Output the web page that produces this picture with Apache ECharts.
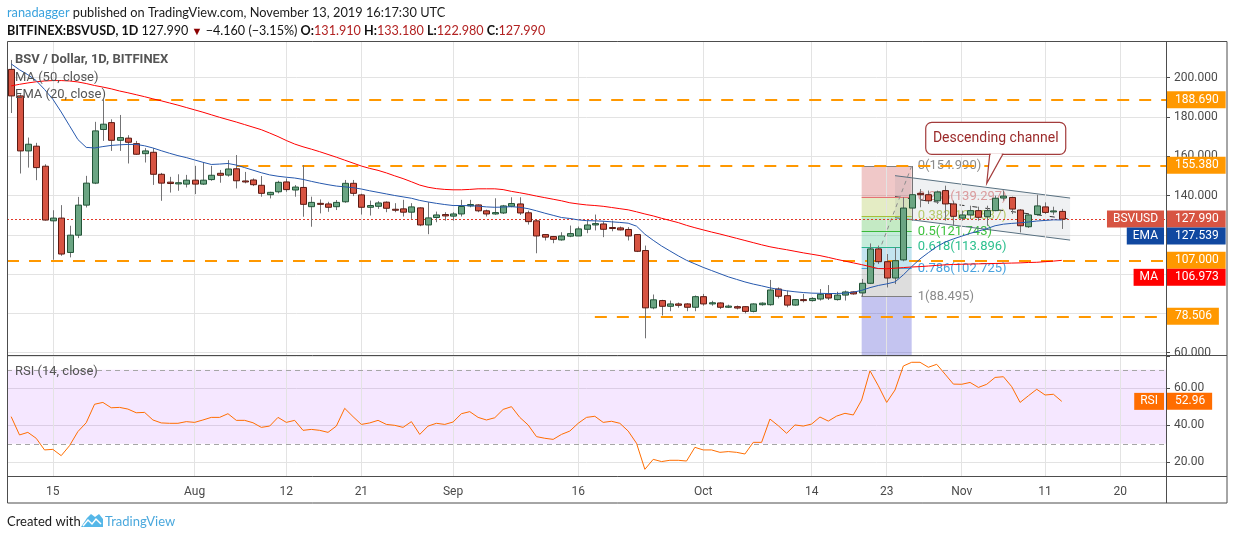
<!DOCTYPE html>
<html><head><meta charset="utf-8">
<script src="https://cdn.jsdelivr.net/npm/echarts@6/dist/echarts.min.js"></script>
<style>html,body{margin:0;padding:0;background:#fff;}#c{width:1234px;height:540px;}</style>
</head><body><div id="c"></div>
<script>
// ---------- categories (daily, Jul 10 .. Nov 25, 2019) ----------
const monthSpans = [['Jul', 10, 31], ['Aug', 1, 31], ['Sep', 1, 30], ['Oct', 1, 31], ['Nov', 1, 25]];
const categories = [];
monthSpans.forEach(([m, s, e]) => { for (let d = s; d <= e; d++) categories.push(m + ' ' + d); });

// ---------- x-axis ticks ----------
const tickDates  = ['Jul 15', 'Aug 1', 'Aug 12', 'Aug 21', 'Sep 1', 'Sep 16', 'Oct 1', 'Oct 14', 'Oct 23', 'Nov 1', 'Nov 11', 'Nov 20'];
const tickLabels = ['15', 'Aug', '12', '21', 'Sep', '16', 'Oct', '14', '23', 'Nov', '11', '20'];
const priceTicksShown = [60, 140, 160, 180, 200];
const rsiTicksShown = [20, 40, 60];

// ---------- OHLC (BSV/USD, Bitfinex, 1D) ----------
const opens = [204.2,190.7,162.7,165.1,154.9,127.1,128.5,111.0,119.8,135.1,146.3,173.6,177.1,168.1,169.2,166.4,161.3,162.0,150.8,146.8,145.9,145.8,
147.8,145.8,148.1,151.3,150.4,153.6,147.4,147.9,145.2,140.4,141.9,146.9,142.8,144.1,134.3,136.0,135.7,134.3,136.8,146.2,140.3,134.0,134.5,136.6,133.0,133.2,131.5,133.7,125.0,128.8,130.3,
129.5,130.6,134.7,135.2,132.2,130.6,131.1,134.5,135.7,131.2,127.1,120.1,119.1,117.4,119.3,119.4,122.8,125.0,125.5,123.7,123.5,122.7,120.1,112.0,82.8,86.5,83.6,84.8,84.8,83.1,
88.5,84.8,85.3,83.1,83.4,83.4,81.0,84.4,84.4,92.4,89.0,84.2,87.0,86.5,87.3,89.9,87.0,89.3,90.9,90.4,95.3,112.8,106.3,98.0,107.2,133.6,141.1,140.4,137.3,142.5,135.7,
128.5,130.1,132.3,129.2,132.3,138.7,139.0,132.6,124.1,130.3,134.2,132.0,131.91];
const highs = [209.0,191.5,169.5,166.8,155.9,132.5,135.1,124.6,139.3,150.0,177.5,189.0,178.8,181.0,170.7,167.8,164.1,164.1,151.5,149.5,150.8,150.5,
155.1,156.8,155.1,153.0,158.0,160.6,152.0,148.7,149.9,141.9,147.5,148.7,145.3,155.5,139.4,138.0,136.8,137.7,147.9,147.9,140.9,137.4,137.1,137.0,136.1,137.8,136.1,134.0,136.6,131.8,131.5,
131.5,137.8,137.8,135.5,132.8,138.6,135.2,139.1,139.1,132.3,127.6,120.1,119.4,121.3,124.7,124.2,127.2,130.3,126.9,127.2,124.2,123.9,120.4,114.5,89.6,86.9,86.5,85.5,85.2,89.1,
89.9,86.4,85.6,84.4,84.0,83.6,85.1,85.6,97.0,93.2,91.5,87.3,89.9,88.2,92.4,94.4,91.0,91.6,91.2,97.5,115.6,114.5,110.2,113.6,139.1,154.99,143.3,142.5,142.5,145.0,137.4,
132.3,134.8,134.3,134.8,139.9,142.5,139.4,133.1,130.6,140.4,136.5,134.3,133.18];
const lows = [182.0,151.2,154.2,147.8,127.2,107.3,109.3,108.5,118.3,133.9,145.8,167.8,162.7,162.7,156.3,160.7,156.8,145.4,137.3,141.5,142.4,144.1,
140.7,145.4,147.5,146.5,149.6,143.6,146.2,144.8,139.4,138.5,141.1,141.9,139.4,129.2,124.1,130.9,131.7,132.6,136.3,139.7,130.3,129.8,133.2,131.5,131.5,129.3,128.1,124.4,120.3,126.4,127.2,
127.2,129.3,134.0,131.5,129.3,130.2,130.6,134.0,130.1,125.2,110.6,117.1,115.7,117.0,118.8,119.4,120.8,122.2,118.8,121.8,122.2,117.1,111.2,67.3,82.1,78.9,81.1,82.9,81.1,81.1,
83.9,83.9,82.2,82.7,82.0,80.0,80.5,83.9,83.9,87.6,83.1,83.9,85.6,86.0,86.5,86.8,86.5,86.5,89.5,88.495,94.9,105.1,93.2,94.9,106.5,127.2,134.0,135.7,135.7,127.2,124.6,
127.2,128.0,127.2,124.6,132.0,137.4,130.6,121.2,123.5,129.8,130.6,130.2,122.98];
const closes = [190.7,162.7,166.1,154.2,127.5,128.5,110.2,119.8,135.1,146.3,172.9,176.3,168.1,169.5,167.1,161.0,162.7,150.8,146.3,146.1,146.5,147.8,
145.8,147.8,150.3,150.3,153.5,147.5,146.9,145.5,141.1,141.6,146.7,143.0,144.3,135.5,136.5,135.5,134.0,136.5,146.2,141.1,134.0,134.9,136.2,133.5,132.5,131.5,134.2,125.0,128.6,130.1,129.6,
130.6,134.4,135.4,132.2,130.6,131.3,134.7,135.9,131.1,126.7,119.4,118.8,117.7,119.4,120.6,123.0,125.0,125.7,122.8,123.2,122.5,119.4,111.6,82.8,86.9,83.6,84.8,84.1,83.1,88.5,
84.8,85.4,83.1,83.7,82.7,81.0,84.8,85.2,91.9,88.7,84.2,87.0,86.5,87.6,89.7,87.8,89.3,90.9,89.9,95.3,112.8,106.3,98.0,106.8,133.6,140.4,140.4,137.3,141.8,135.7,129.4,
130.1,132.3,128.9,132.3,138.6,139.7,133.1,124.6,130.1,134.7,131.4,132.15,127.99];

// ---------- indicators ----------
const ma50 = [195.8,196.6,197.3,197.9,198.3,198.5,198.5,198.3,197.8,197.0,196.0,195.2,194.3,193.2,192.3,191.3,190.3,189.2,188.2,187.1,186.0,184.8,
183.6,182.4,181.1,179.8,178.6,177.4,176.1,174.8,173.5,171.8,170.0,168.0,166.2,164.8,163.6,162.3,160.9,159.5,158.0,156.5,155.0,153.8,152.8,151.5,150.0,148.6,147.0,145.3,144.2,143.5,143.1,
142.9,142.9,143.1,143.4,143.4,143.4,143.0,142.1,141.4,140.6,139.7,138.9,138.1,137.3,136.3,135.7,135.2,134.9,134.5,133.9,133.3,132.7,131.7,130.6,129.6,128.4,127.3,126.2,124.8,123.6,
122.5,121.4,120.4,119.3,118.2,117.1,116.0,114.9,113.9,113.1,112.4,111.6,110.8,110.1,109.4,108.5,107.5,106.6,105.7,104.8,103.8,102.8,102.7,103.0,103.3,103.6,103.8,104.1,104.4,104.7,104.9,
105.0,105.1,105.2,105.3,105.4,105.5,105.6,105.7,105.9,106.0,106.3,106.6,106.973];
const ema20 = [207.0,204.0,201.5,198.5,194.0,189.0,182.5,175.5,168.5,164.5,164.2,164.9,165.5,165.8,166.0,166.0,165.3,164.2,162.8,161.5,160.3,159.3,
158.1,156.9,155.8,156.0,156.3,155.5,154.2,152.9,151.6,150.5,149.8,149.3,148.9,148.2,147.2,146.3,145.5,144.8,144.4,144.0,143.3,142.4,141.6,140.8,140.0,139.3,138.6,137.5,136.7,136.0,135.4,
134.9,134.9,134.8,134.6,134.2,134.0,134.1,134.3,134.0,133.3,132.2,131.0,129.9,128.8,128.3,127.6,127.2,127.1,126.9,126.6,126.3,125.9,124.4,120.3,117.2,114.3,111.8,109.3,107.0,105.2,
103.4,101.8,100.2,98.6,97.3,96.0,94.9,94.0,93.0,92.2,91.5,91.0,90.6,90.3,90.2,90.1,90.1,90.3,90.8,91.7,93.1,94.2,95.0,96.0,99.6,103.8,107.7,110.9,113.9,116.3,117.9,
119.3,120.7,121.9,123.1,124.6,125.4,125.8,126.1,126.5,127.0,127.3,127.6,127.539];
const rsi14 = [44.7,34.8,36.2,33.0,26.7,27.0,23.6,29.0,36.6,41.4,51.4,52.4,49.5,49.7,48.8,46.8,47.0,42.9,41.3,41.1,41.1,42.0,
41.6,42.9,44.3,44.3,46.3,42.7,42.7,41.4,38.9,39.6,44.3,41.6,42.7,37.3,37.8,37.3,36.2,39.6,49.2,44.7,40.5,41.3,42.7,40.5,40.0,38.9,42.0,35.1,39.6,41.1,40.5,
41.8,46.3,47.4,44.3,42.9,44.1,48.6,50.1,44.3,40.2,33.9,33.0,32.4,35.1,36.9,41.1,44.3,44.9,41.6,42.2,41.1,36.9,30.3,16.2,21.6,20.4,21.1,21.1,20.7,28.1,
26.7,26.7,25.4,25.8,25.4,24.5,30.8,30.8,43.4,39.8,35.7,40.2,39.6,40.7,44.5,42.3,45.0,46.5,45.6,53.7,69.5,61.4,52.4,59.1,72.1,74.1,74.1,71.4,73.0,67.7,62.3,
62.2,63.2,60.5,62.2,65.9,66.3,60.9,52.4,56.0,59.5,56.4,56.8,52.96];

// ---------- drawings ----------
const levelValues = [188.69, 155.38, 107.0, 78.506];
const levelStarts = ['Jul 16', 'Aug 6', null, 'Sep 18'];
const fibStart = 'Oct 20', fibEnd = 'Oct 26';
const fibRatios = ['0', '0.236', '0.382', '0.5', '0.618', '0.786', '1'];
const fibPrices = [154.99, 139.297, 129.587, 121.743, 113.896, 102.725, 88.495];
const fibExt = 47.4; // 1.618 level, below the visible range
const chanStart = 'Oct 24', chanEnd = 'Nov 14';
const chanTop = [150.1, 138.7];
const chanBottom = [128.7, 117.3];
const calloutAnchor = ['Nov 4', 146.2];
const calloutText = 'Descending channel';

// ---------- layout / style ----------
const F = "Roboto, 'Noto Sans', sans-serif";
const HF = "Lato, 'Noto Sans', sans-serif";
const GL = 7, GR = 1166, T0 = 41.5, B0 = 355, T1 = 356, B1 = 476;
const P_MIN = 58.8, P_MAX = 218.4, R_MIN = 12.6, R_MAX = 77.5;
const GRID = '#e3e3e3', AX = '#4a4a4a';
const fibLine = ['#808080', '#e57373', '#a5c03a', '#3ab93a', '#2ab38a', '#4aa3df', '#808080'];
const fibText = ['#8a8a8a', '#e9a0a0', '#c2d46a', '#3fc23f', '#2fc08f', '#4aa3df', '#8a8a8a'];
const fibFill = ['rgba(205,72,72,0.3)', 'rgba(165,192,58,0.3)', 'rgba(58,185,58,0.3)', 'rgba(58,192,132,0.3)',
                 'rgba(58,165,205,0.3)', 'rgba(128,128,128,0.27)', 'rgba(58,58,205,0.3)'];

const chart = echarts.init(document.getElementById('c'));
const ci = c => categories.indexOf(c);

const candleData = opens.map((o, i) => [i, o, closes[i], lows[i], highs[i]]);

function renderCandle(params, api) {
  const i = api.value(0), o = api.value(1), c = api.value(2), l = api.value(3), h = api.value(4);
  const pO = api.coord([i, o]), pC = api.coord([i, c]), pL = api.coord([i, l]), pH = api.coord([i, h]);
  const bw = Math.round(api.size([1, 0])[0] * 0.66);
  const cx = Math.round(pO[0]) + 0.5;
  const up = c >= o;
  const top = Math.min(pO[1], pC[1]), bot = Math.max(pO[1], pC[1]);
  return { type: 'group', children: [
    { type: 'line', shape: { x1: cx, y1: pH[1], x2: cx, y2: pL[1] }, style: { stroke: '#737375', lineWidth: 1 } },
    { type: 'rect', shape: { x: cx - bw / 2, y: top, width: bw, height: Math.max(bot - top, 1) },
      style: { fill: up ? '#6ba583' : '#d75442', stroke: up ? '#225437' : '#5b1a13', lineWidth: 1 } }
  ]};
}

function renderChannel(params, api) {
  const a = ci(chanStart), b = ci(chanEnd);
  const t0 = api.coord([a, chanTop[0]]), t1 = api.coord([b, chanTop[1]]);
  const b0 = api.coord([a, chanBottom[0]]), b1 = api.coord([b, chanBottom[1]]);
  const m0 = api.coord([a, (chanTop[0] + chanBottom[0]) / 2]), m1 = api.coord([b, (chanTop[1] + chanBottom[1]) / 2]);
  return { type: 'group', children: [
    { type: 'polygon', shape: { points: [t0, t1, b1, b0] }, style: { fill: 'rgba(100,120,140,0.10)' } },
    { type: 'line', shape: { x1: t0[0], y1: t0[1], x2: t1[0], y2: t1[1] }, style: { stroke: '#587080', lineWidth: 1 } },
    { type: 'line', shape: { x1: b0[0], y1: b0[1], x2: b1[0], y2: b1[1] }, style: { stroke: '#587080', lineWidth: 1 } },
    { type: 'line', shape: { x1: m0[0], y1: m0[1], x2: m1[0], y2: m1[1] }, style: { stroke: '#333', lineWidth: 1, lineDash: [5, 8] } }
  ]};
}

const vGrid = axis => ({
  type: 'line', xAxisIndex: axis, yAxisIndex: axis, data: [], z: 0, silent: true,
  markLine: { symbol: 'none', silent: true, animation: false, label: { show: false },
    lineStyle: { color: GRID, width: 1, type: 'solid' }, data: tickDates.map(d => ({ xAxis: d })) }
});

// fib zones & levels
const fibAreas = [];
for (let k = 0; k < fibPrices.length - 1; k++) {
  fibAreas.push([{ coord: [fibStart, fibPrices[k]], itemStyle: { color: fibFill[k] } }, { coord: [fibEnd, fibPrices[k + 1]] }]);
}
fibAreas.push([{ coord: [fibStart, fibPrices[fibPrices.length - 1]], itemStyle: { color: fibFill[6] } }, { coord: [fibEnd, Math.max(fibExt, P_MIN)] }]);
const fibLines = fibPrices.map((p, k) => [
  { coord: [fibStart, p], lineStyle: { color: fibLine[k], width: 1, type: 'solid' }, label: { show: false } },
  { coord: [fibEnd, p] }
]);
fibLines.push([
  { coord: [fibStart, fibPrices[6]], lineStyle: { color: '#8c8c8c', width: 1, type: [4, 4] }, label: { show: false } },
  { coord: [fibEnd, fibPrices[0]] }
]);

// horizontal levels
const levelLines = levelValues.map((v, k) => levelStarts[k]
  ? [{ coord: [levelStarts[k], v] }, { yAxis: v, x: GR }]
  : { yAxis: v });

const option = {
  animation: false,
  textStyle: { fontFamily: F },
  grid: [
    { left: GL, top: T0, width: GR - GL, height: B0 - T0 },
    { left: GL, top: T1, width: GR - GL, height: B1 - T1 }
  ],
  xAxis: [
    { type: 'category', gridIndex: 0, data: categories, boundaryGap: true,
      axisLine: { show: false }, axisTick: { show: false }, axisLabel: { show: false }, splitLine: { show: false } },
    { type: 'category', gridIndex: 1, data: categories, boundaryGap: true,
      axisLine: { show: false }, axisTick: { show: false }, splitLine: { show: false },
      axisLabel: { interval: (i, v) => tickDates.includes(v), formatter: v => (tickDates.includes(v) ? tickLabels[tickDates.indexOf(v)] : ''),
        color: AX, fontSize: 12, margin: 10, fontFamily: F } }
  ],
  yAxis: [
    { type: 'value', gridIndex: 0, position: 'right', min: P_MIN, max: P_MAX, splitNumber: 8, minInterval: 20, maxInterval: 20,
      axisLine: { show: false }, axisTick: { show: true, length: 4, lineStyle: { color: AX } },
      axisLabel: { formatter: v => (priceTicksShown.includes(v) ? v.toFixed(3) : ''), color: AX, fontSize: 12, margin: 8, fontFamily: F },
      splitLine: { show: true, lineStyle: { color: GRID, width: 1 } } },
    { type: 'value', gridIndex: 1, position: 'right', min: R_MIN, max: R_MAX, splitNumber: 3, minInterval: 20, maxInterval: 20,
      axisLine: { show: false }, axisTick: { show: true, length: 4, lineStyle: { color: AX } },
      axisLabel: { formatter: v => (rsiTicksShown.includes(v) ? v.toFixed(2) : ''), color: AX, fontSize: 12, margin: 8, fontFamily: F },
      splitLine: { show: true, lineStyle: { color: GRID, width: 1 } } }
  ],
  series: [
    vGrid(0), vGrid(1),
    { name: 'fib', type: 'line', xAxisIndex: 0, yAxisIndex: 0, data: [], z: 1, silent: true,
      markArea: { silent: true, animation: false, data: fibAreas },
      markLine: { symbol: 'none', silent: true, animation: false, data: fibLines } },
    { name: 'channel', type: 'custom', xAxisIndex: 0, yAxisIndex: 0, z: 2, silent: true, data: [[0, 0]], renderItem: renderChannel },
    { name: 'levels', type: 'line', xAxisIndex: 0, yAxisIndex: 0, data: [], z: 3, silent: true,
      markLine: { symbol: 'none', silent: true, animation: false, label: { show: false },
        data: [
          ...levelLines.map(l => Array.isArray(l)
            ? [Object.assign({ lineStyle: { color: '#ff9800', width: 2, type: [12, 10] } }, l[0]), l[1]]
            : Object.assign({ lineStyle: { color: '#ff9800', width: 2, type: [12, 10] } }, l)),
          { yAxis: closes[closes.length - 1], lineStyle: { color: '#e0392b', width: 1, type: [2, 2] } }
        ] } },
    { name: 'BSVUSD', type: 'custom', xAxisIndex: 0, yAxisIndex: 0, z: 5, data: candleData,
      encode: { x: 0, y: [1, 2, 3, 4] }, renderItem: renderCandle },
    { name: 'MA', type: 'line', xAxisIndex: 0, yAxisIndex: 0, z: 6, data: ma50, showSymbol: false, silent: true,
      lineStyle: { color: '#ff0000', width: 1 } },
    { name: 'EMA', type: 'line', xAxisIndex: 0, yAxisIndex: 0, z: 6, data: ema20, showSymbol: false, silent: true,
      lineStyle: { color: '#2658ad', width: 1 } },
    { name: 'RSI', type: 'line', xAxisIndex: 1, yAxisIndex: 1, z: 6, data: rsi14, showSymbol: false, silent: true,
      lineStyle: { color: '#ff6d00', width: 1 },
      markArea: { silent: true, animation: false, itemStyle: { color: 'rgba(153,21,255,0.1)' }, data: [[{ yAxis: 30 }, { yAxis: 70 }]] },
      markLine: { symbol: 'none', silent: true, animation: false, label: { show: false },
        lineStyle: { color: '#a6a6a6', width: 1, type: [5, 4] }, data: [{ yAxis: 70 }, { yAxis: 30 }] } }
  ]
};
chart.setOption(option);

// ---------- chrome, labels and annotations ----------
const last = closes.length - 1;
const chg = closes[last] - closes[last - 1];
const pct = chg / closes[last - 1] * 100;
const minus = s => s.replace('-', '\u2212');
const py = v => chart.convertToPixel({ yAxisIndex: 0 }, v);
const ry = v => chart.convertToPixel({ yAxisIndex: 1 }, v);

const BOX_H = 17;
function valueBox(text, y, bg) {
  return { type: 'text', z: 100, style: { x: GR + 1, y: y, text: text, fill: '#fff', backgroundColor: bg,
    padding: [2, 7, 2, 8], font: '12px ' + F, align: 'left', verticalAlign: 'middle', lineHeight: 13 } };
}
function nameBox(text, y, bg) {
  return { type: 'text', z: 100, style: { x: GR - 2, y: y, text: text, fill: '#fff', backgroundColor: bg,
    padding: [2, 6, 2, 6], font: '12px ' + F, align: 'right', verticalAlign: 'middle', lineHeight: 13 } };
}
const G = [];
// frame
const frameStroke = { stroke: '#4d4d4d', lineWidth: 1 };
G.push({ type: 'rect', z: 90, shape: { x: 7.5, y: 41.5, width: 1219.5, height: 461.5 }, style: { fill: 'none', stroke: '#4d4d4d', lineWidth: 1 } });
G.push({ type: 'line', z: 90, shape: { x1: GR + 0.5, y1: 41.5, x2: GR + 0.5, y2: 503 }, style: frameStroke });
G.push({ type: 'line', z: 90, shape: { x1: 7.5, y1: B0 + 0.5, x2: 1227, y2: B0 + 0.5 }, style: frameStroke });
G.push({ type: 'line', z: 90, shape: { x1: 7.5, y1: B1 + 0.5, x2: 1227, y2: B1 + 0.5 }, style: frameStroke });

// fib level labels (under the candles)
const fibLabelX = chart.convertToPixel({ xAxisIndex: 0 }, fibEnd) + 6;
fibPrices.forEach((p, k) => G.push({ type: 'text', z: 1, silent: true, style: { x: fibLabelX, y: py(p),
  text: fibRatios[k] + '(' + p.toFixed(3) + ')', fill: fibText[k], font: '13px ' + F, align: 'left', verticalAlign: 'middle' } }));

// header
G.push({ type: 'text', z: 100, style: { x: 7, y: 13, verticalAlign: 'middle', align: 'left',
  text: '{u|ranadagger}{t| published on TradingView.com, November 13, 2019 16:17:30 UTC}',
  rich: { u: { fill: '#3ba3de', font: '12.8px ' + HF }, t: { fill: '#1a1a1a', font: '12.8px ' + HF } } } });
G.push({ type: 'text', z: 100, style: { x: 7, y: 31, verticalAlign: 'middle', align: 'left',
  text: '{b|BITFINEX:BSVUSD, 1D}{n| ' + closes[last].toFixed(3) + ' }{r|\u25BC}{n| ' + minus(chg.toFixed(3)) + ' (' + minus(pct.toFixed(2)) + '%) }' +
        '{b|O:}{v|' + opens[last].toFixed(3) + '}{n| }{b|H:}{v|' + highs[last].toFixed(3) + '}{n| }{b|L:}{v|' + lows[last].toFixed(3) + '}{n| }{b|C:}{v|' + closes[last].toFixed(3) + '}',
  rich: { b: { fill: '#111', font: 'bold 12.6px ' + HF }, n: { fill: '#111', font: '12.6px ' + HF },
          r: { fill: '#8b0000', font: '11px ' + HF }, v: { fill: '#b22222', font: '12.6px ' + HF } } } });

// in-chart legends
G.push({ type: 'text', z: 100, style: { x: 15, y: 60, text: 'BSV / Dollar, 1D, BITFINEX', fill: '#555', font: 'bold 13px ' + F, verticalAlign: 'middle' } });
G.push({ type: 'text', z: 100, style: { x: 15, y: 78, text: 'MA (50, close)', fill: '#555', font: '13px ' + F, verticalAlign: 'middle' } });
G.push({ type: 'text', z: 100, style: { x: 15, y: 95, text: 'EMA (20, close)', fill: '#555', font: '13px ' + F, verticalAlign: 'middle' } });
G.push({ type: 'text', z: 100, style: { x: 15, y: 372, text: 'RSI (14, close)', fill: '#555', font: '13px ' + F, verticalAlign: 'middle' } });

// right-side value labels (stacked so they do not overlap)
const priceTags = [];
levelValues.forEach(v => priceTags.push({ y: py(v), value: v.toFixed(3), bg: '#ff9800' }));
priceTags.push({ y: py(closes[last]), name: 'BSVUSD', value: closes[last].toFixed(3), bg: '#d75442' });
priceTags.push({ y: py(ema20[last]), name: 'EMA', value: ema20[last].toFixed(3), bg: '#1048a0' });
priceTags.push({ y: py(ma50[last]), name: 'MA', value: ma50[last].toFixed(3), bg: '#ff0000' });
priceTags.sort((a, b) => a.y - b.y);
let prevY = -1e9;
priceTags.forEach(t => {
  const y = Math.max(t.y, prevY + BOX_H);
  prevY = y;
  if (t.name) G.push(nameBox(t.name, y, t.bg));
  G.push(valueBox(t.value, y, t.bg));
});
G.push(nameBox('RSI', ry(rsi14[last]), '#ff6d00'));
G.push(valueBox(rsi14[last].toFixed(2), ry(rsi14[last]), '#ff6d00'));

// callout
const tip = chart.convertToPixel({ gridIndex: 0 }, [calloutAnchor[0], calloutAnchor[1]]);
const bx0 = tip[0] - 61, bx1 = tip[0] + 79, by0 = tip[1] - 61, by1 = tip[1] - 29;
const tl = tip[0] + 3, tr = tip[0] + 16;
G.push({ type: 'rect', z: 95, shape: { x: bx0, y: by0, width: bx1 - bx0, height: by1 - by0, r: 6 }, style: { fill: '#fff', stroke: '#a33c3c', lineWidth: 1.2 } });
G.push({ type: 'polygon', z: 96, shape: { points: [[tl, by1], [tip[0], tip[1]], [tr, by1]] }, style: { fill: '#fff', stroke: '#a33c3c', lineWidth: 1.2 } });
G.push({ type: 'line', z: 97, shape: { x1: tl + 1, y1: by1, x2: tr - 1, y2: by1 }, style: { stroke: '#fff', lineWidth: 2 } });
G.push({ type: 'text', z: 98, style: { x: (bx0 + bx1) / 2, y: (by0 + by1) / 2, text: calloutText, fill: '#9b2a2a',
  font: '14px ' + F, align: 'center', verticalAlign: 'middle' } });

// footer
G.push({ type: 'text', z: 100, style: { x: 7, y: 522, text: 'Created with', fill: '#1a1a1a', font: '13px ' + HF, verticalAlign: 'middle' } });
G.push({ type: 'polygon', z: 100, shape: { points: [[81, 527], [87, 518], [91, 514], [95, 517], [99, 514], [103, 519], [103, 527]] }, style: { fill: '#55b7e8' } });
G.push({ type: 'polyline', z: 101, shape: { points: [[83, 526], [88, 520], [92, 524], [96, 519], [101, 524]] }, style: { stroke: '#fff', lineWidth: 1.5, fill: 'none' } });
G.push({ type: 'text', z: 100, style: { x: 105, y: 522, text: 'TradingView', fill: '#4aa8dd', font: '13px ' + HF, verticalAlign: 'middle' } });

chart.setOption({ graphic: G });
</script>
</body></html>
